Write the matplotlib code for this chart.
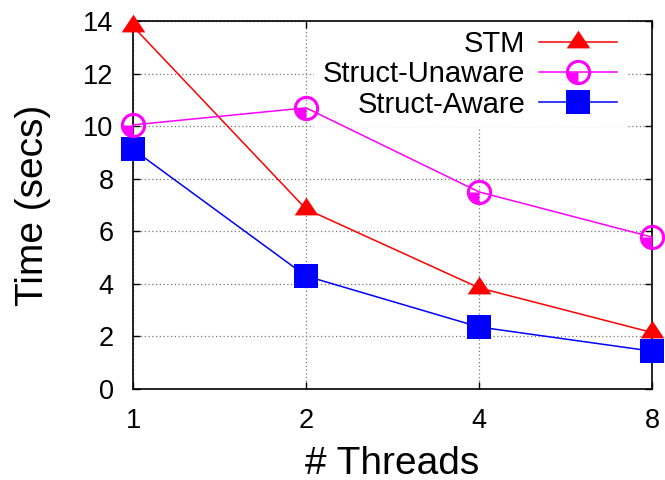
import matplotlib
matplotlib.use("Agg")
import matplotlib.pyplot as plt
from matplotlib.path import Path
from matplotlib.lines import Line2D

plt.rcParams["font.family"] = ["Liberation Sans", "DejaVu Sans"]

# data
threads = ["1", "2", "4", "8"]
stm = [13.8, 6.85, 3.85, 2.15]
struct_unaware = [10.05, 10.7, 7.5, 5.78]
struct_aware = [9.12, 4.3, 2.36, 1.44]

x = list(range(len(threads)))

# gnuplot-like wide triangle, centroid on the data point
tri = Path([(-1, -0.5), (1, -0.5), (0, 1.0), (-1, -0.5)],
           [Path.MOVETO, Path.LINETO, Path.LINETO, Path.CLOSEPOLY])
# bottom-left quarter wedge for the "circle with quarter fill" point
wedge = Path.wedge(180, 270)

fig = plt.figure(figsize=(6.65, 4.8), dpi=100)
ax = fig.add_axes([0.2, 0.1896, 0.7805, 0.7664])

ax.plot(x, stm, color="red", lw=1.1, marker=tri, ms=17, mew=0,
        clip_on=False, zorder=3)
ax.plot(x, struct_unaware, color="magenta", lw=1.1, clip_on=False, zorder=3)
ax.plot(x, struct_unaware, ls="none", marker="o", ms=16, mfc="none",
        mec="magenta", mew=2.2, clip_on=False, zorder=4)
ax.plot(x, struct_unaware, ls="none", marker=wedge, ms=16, mfc="magenta",
        mew=0, clip_on=False, zorder=4)
ax.plot(x, struct_aware, color="blue", lw=1.1, marker="s", ms=17, mew=0,
        clip_on=False, zorder=3)

ax.set_xlim(0, 3)
ax.set_ylim(0, 14)
ax.set_xticks(x)
ax.set_xticklabels(threads)
ax.set_yticks(range(0, 15, 2))

ax.grid(True, ls=(0, (1, 2)), color="#777777", lw=0.9)
ax.set_axisbelow(True)
for s in ax.spines.values():
    s.set_linewidth(1.2)
ax.tick_params(direction="in", length=5, width=1, top=True, right=True,
               labelsize=19.5)
ax.tick_params(axis="x", pad=14)
ax.tick_params(axis="y", pad=14)

ax.set_xlabel("# Threads", fontsize=28, labelpad=8)
ax.set_ylabel("Time (secs)", fontsize=28, labelpad=23)

h_stm = Line2D([], [], color="red", lw=1.1, marker=tri, ms=17, mew=0)
h_line = Line2D([], [], color="magenta", lw=1.1)
h_circ = Line2D([], [], ls="none", marker="o", ms=16, mfc="none",
                mec="magenta", mew=2.2)
h_wedge = Line2D([], [], ls="none", marker=wedge, ms=16, mfc="magenta", mew=0)
h_aware = Line2D([], [], color="blue", lw=1.1, marker="s", ms=17, mew=0)

leg = ax.legend([h_stm, (h_line, h_circ, h_wedge), h_aware],
                ["STM", "Struct-Unaware", "Struct-Aware"],
                loc="upper right", bbox_to_anchor=(0.95, 1.0),
                markerfirst=False, fontsize=21, handlelength=2.7,
                handletextpad=0.45, labelspacing=0.08, borderpad=0.3,
                frameon=True, fancybox=False, framealpha=1,
                facecolor="white", edgecolor="none", borderaxespad=0)
# legend box hides the grid but stays under the data
leg.set_zorder(2)

fig.savefig("out.png", dpi=100)
